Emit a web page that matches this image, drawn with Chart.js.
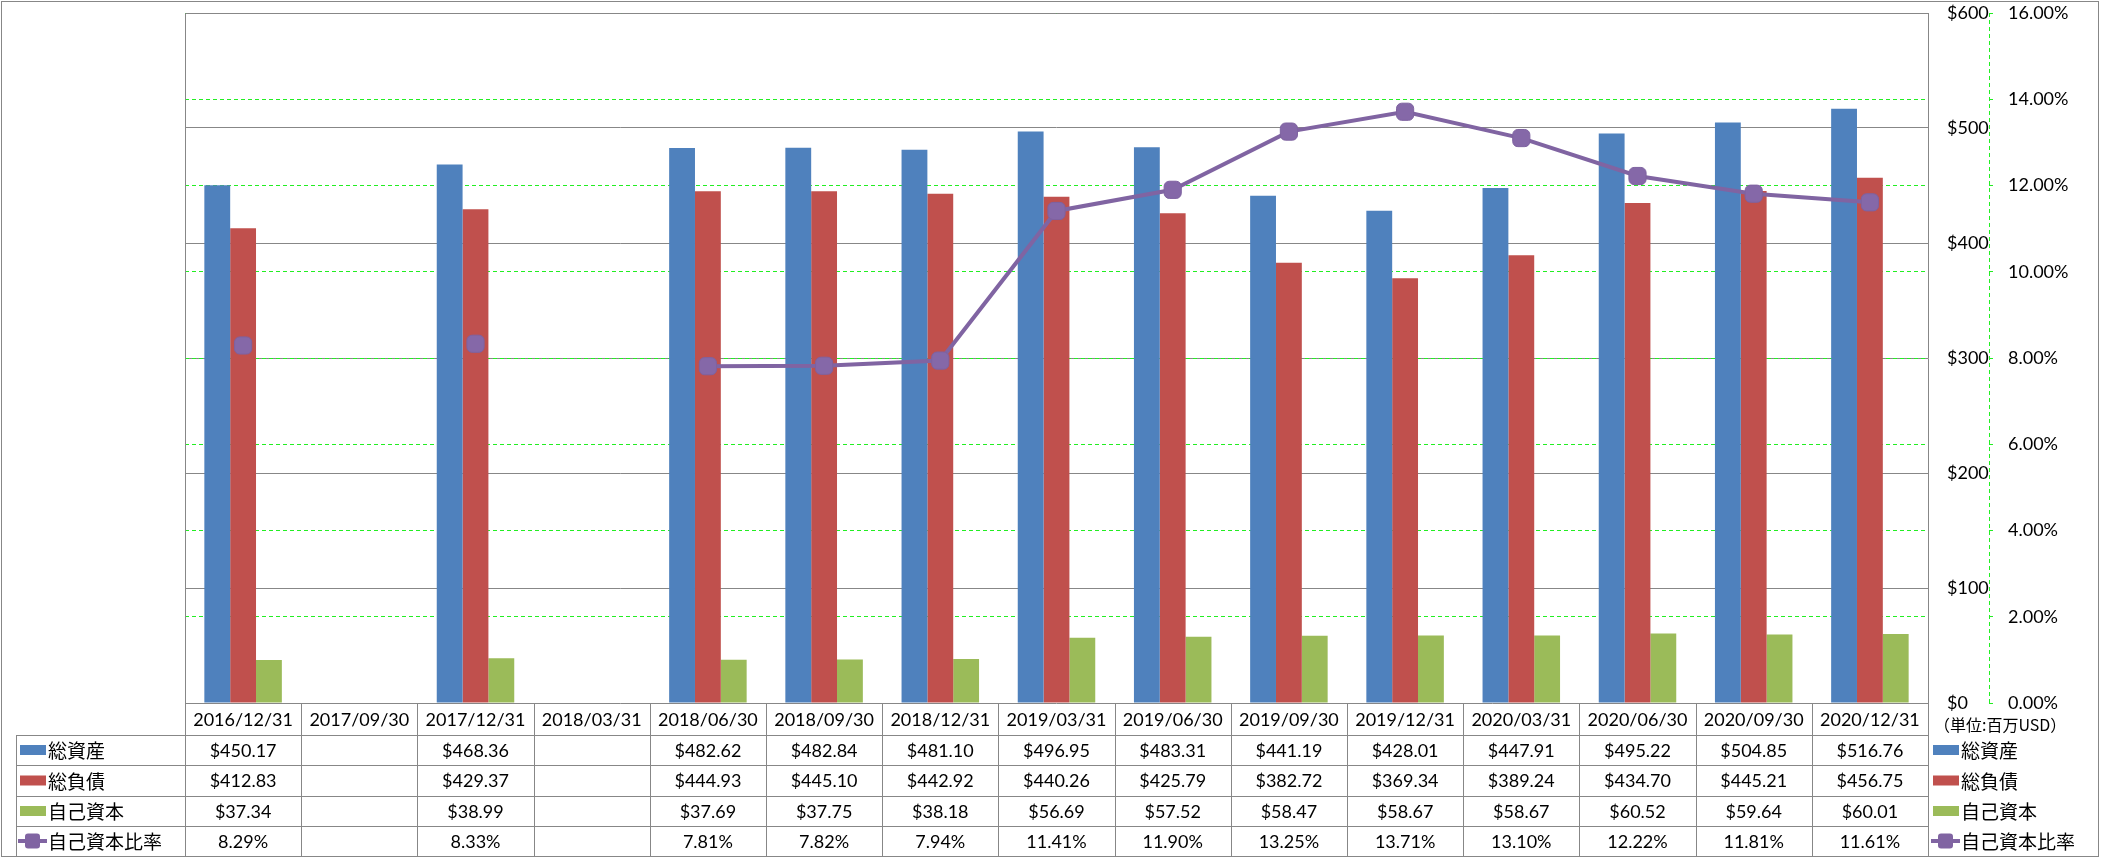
<!DOCTYPE html>
<html><head><meta charset="utf-8">
<script src="https://cdn.jsdelivr.net/npm/chart.js@4.4.1/dist/chart.umd.min.js"></script>
<style>html,body{margin:0;padding:0;background:#fff;overflow:hidden}canvas{display:block}</style>
</head><body>
<canvas id="c" width="2101" height="858"></canvas>
<script>
// ---- data ----
const categories = ['2016/12/31','2017/09/30','2017/12/31','2018/03/31','2018/06/30','2018/09/30','2018/12/31','2019/03/31','2019/06/30','2019/09/30','2019/12/31','2020/03/31','2020/06/30','2020/09/30','2020/12/31'];
const totalAssets      = [450.17, null, 468.36, null, 482.62, 482.84, 481.10, 496.95, 483.31, 441.19, 428.01, 447.91, 495.22, 504.85, 516.76];
const totalLiabilities = [412.83, null, 429.37, null, 444.93, 445.10, 442.92, 440.26, 425.79, 382.72, 369.34, 389.24, 434.70, 445.21, 456.75];
const equity           = [37.34, null, 38.99, null, 37.69, 37.75, 38.18, 56.69, 57.52, 58.47, 58.67, 58.67, 60.52, 59.64, 60.01];
const equityRatio      = [8.29, null, 8.33, null, 7.81, 7.82, 7.94, 11.41, 11.90, 13.25, 13.71, 13.10, 12.22, 11.81, 11.61];
const seriesNames = ['総資産','総負債','自己資本','自己資本比率'];
const usdAxis = {min: 0, max: 600, step: 100};
const pctAxis = {min: 0, max: 16, step: 2};
const unitLabel = '（単位:百万USD）';

// ---- style ----
const BLUE = '#4F81BD', RED = '#C0504D', GREEN = '#9BBB59', PURPLE = '#8064A2';
const GRAY = '#878787', LIME = '#22EE22';
const NUMFONT = '"Lato", "Liberation Sans", sans-serif';
const CJKFONT = '"Noto Sans CJK JP", "Noto Sans", sans-serif';
const colors = [BLUE, RED, GREEN, PURPLE];
const fmtUsd = v => '$' + v.toFixed(2);
const fmtPct = v => v.toFixed(2) + '%';

function drawKey(ctx, i, x, cy) {
  if (i < 3) {
    ctx.fillStyle = colors[i];
    ctx.fillRect(x, cy - 5, 26, 10);
  } else {
    ctx.strokeStyle = PURPLE; ctx.lineWidth = 4; ctx.setLineDash([]);
    ctx.beginPath(); ctx.moveTo(x - 2, cy); ctx.lineTo(x + 27, cy); ctx.stroke();
    ctx.fillStyle = PURPLE;
    ctx.beginPath();
    if (ctx.roundRect) ctx.roundRect(x + 5, cy - 7.5, 15, 15, 3); else ctx.rect(x + 5, cy - 7.5, 15, 15);
    ctx.fill();
  }
}

const tablePlugin = {
  id: 'dataTable',
  beforeDatasetsDraw(chart) {
    const {ctx, chartArea: a} = chart;
    ctx.save();
    ctx.strokeStyle = GRAY; ctx.lineWidth = 1;
    ctx.beginPath();
    ctx.moveTo(a.left + 0.5, a.bottom); ctx.lineTo(a.left + 0.5, a.top + 0.5); ctx.lineTo(a.right, a.top + 0.5);
    ctx.stroke();
    const s = chart.scales.y1;
    ctx.strokeStyle = LIME; ctx.setLineDash([4, 3]);
    ctx.beginPath(); ctx.moveTo(Math.round(s.left) + 0.5, a.top); ctx.lineTo(Math.round(s.left) + 0.5, a.bottom); ctx.stroke();
    ctx.restore();
  },
  afterDraw(chart) {
    const {ctx, chartArea: a} = chart;
    const xs = chart.scales.x;
    const n = categories.length;
    const cw = (a.right - a.left) / n;
    const rows = [Math.round(a.bottom), 735, 765, 796, 826, 856];
    const L = 16;
    ctx.save();
    ctx.strokeStyle = GRAY; ctx.lineWidth = 1; ctx.setLineDash([]);
    ctx.beginPath();
    ctx.moveTo(a.left, rows[0] + 0.5); ctx.lineTo(a.right, rows[0] + 0.5);
    for (let r = 1; r < rows.length; r++) { ctx.moveTo(L, rows[r] + 0.5); ctx.lineTo(a.right, rows[r] + 0.5); }
    ctx.moveTo(L + 0.5, rows[1]); ctx.lineTo(L + 0.5, rows[5]);
    for (let i = 0; i <= n; i++) {
      const x = Math.round(i < n ? xs.getPixelForValue(i) - cw / 2 : xs.getPixelForValue(n - 1) + cw / 2) + 0.5;
      ctx.moveTo(x, rows[0]); ctx.lineTo(x, rows[5]);
    }
    ctx.stroke();
    // outer border
    ctx.strokeRect(1.5, 1.5, 2097, 855);

    ctx.textBaseline = 'middle'; ctx.textAlign = 'center'; ctx.fillStyle = '#000';
    ctx.font = '18px ' + NUMFONT;
    const series = [totalAssets, totalLiabilities, equity, equityRatio];
    for (let i = 0; i < n; i++) {
      const cx = xs.getPixelForValue(i);
      ctx.fillText(categories[i], cx, (rows[0] + rows[1]) / 2 + 1);
      series.forEach((arr, r) => {
        const v = arr[i];
        if (v == null) return;
        ctx.fillText(r < 3 ? fmtUsd(v) : fmtPct(v), cx, (rows[r + 1] + rows[r + 2]) / 2 + 1);
      });
    }
    // legend column + right legend
    ctx.textAlign = 'left';
    ctx.font = '19px ' + CJKFONT;
    for (let r = 0; r < 4; r++) {
      const cy = (rows[r + 1] + rows[r + 2]) / 2;
      drawKey(ctx, r, 20, cy);
      ctx.fillStyle = '#000';
      ctx.fillText(seriesNames[r], 48, cy + 1);
      drawKey(ctx, r, 1933, cy);
      ctx.fillStyle = '#000';
      ctx.fillText(seriesNames[r], 1961, cy + 1);
    }
    ctx.font = '16px ' + CJKFONT;
    ctx.fillText(unitLabel, 1934, 725);
    ctx.restore();
  }
};

const noOverflow = s => { s.paddingTop = 0; s.paddingBottom = 0; };

new Chart(document.getElementById('c'), {
  data: {
    labels: categories,
    datasets: [
      {type: 'bar', label: seriesNames[0], data: totalAssets, backgroundColor: BLUE, yAxisID: 'y', order: 1},
      {type: 'bar', label: seriesNames[1], data: totalLiabilities, backgroundColor: RED, yAxisID: 'y', order: 1},
      {type: 'bar', label: seriesNames[2], data: equity, backgroundColor: GREEN, yAxisID: 'y', order: 1},
      {type: 'line', label: seriesNames[3], data: equityRatio, yAxisID: 'y1', order: 0,
       borderColor: PURPLE, borderWidth: 4, spanGaps: false, tension: 0,
       pointStyle: 'rectRounded', pointRadius: 10, pointHoverRadius: 10,
       pointBackgroundColor: '#8568A8', pointBorderColor: '#7E62A0', pointBorderWidth: 1}
    ]
  },
  options: {
    responsive: false, animation: false, devicePixelRatio: 1,
    layout: {padding: {left: 185, top: 13, bottom: 155, right: 0}},
    plugins: {legend: {display: false}, tooltip: {enabled: false}},
    datasets: {bar: {categoryPercentage: 0.667, barPercentage: 1.0}},
    scales: {
      x: {display: false, offset: true, grid: {display: false}},
      y: {position: 'right', weight: 0, min: usdAxis.min, max: usdAxis.max,
          ticks: {stepSize: usdAxis.step, padding: 19, color: '#000', font: {family: NUMFONT, size: 18}, callback: v => '$' + v},
          grid: {color: c => (c.tick && c.tick.value === 0) ? 'rgba(0,0,0,0)' : GRAY, lineWidth: 1, drawTicks: false},
          border: {display: true, color: GRAY, width: 1},
          afterFit: s => { s.width = 61; noOverflow(s); }},
      y1: {position: 'right', weight: 1, min: pctAxis.min, max: pctAxis.max,
          ticks: {stepSize: pctAxis.step, padding: 15, color: '#000', font: {family: NUMFONT, size: 18}, callback: v => v.toFixed(2) + '%'},
          grid: {color: c => (c.tick && c.tick.value === 0) ? 'rgba(0,0,0,0)' : LIME, lineWidth: 1, drawTicks: true, tickLength: 4, tickColor: LIME},
          border: {display: false, dash: [4, 3]},
          afterFit: s => { s.width = 112; noOverflow(s); }}
    }
  },
  plugins: [tablePlugin]
});
</script>
</body></html>
